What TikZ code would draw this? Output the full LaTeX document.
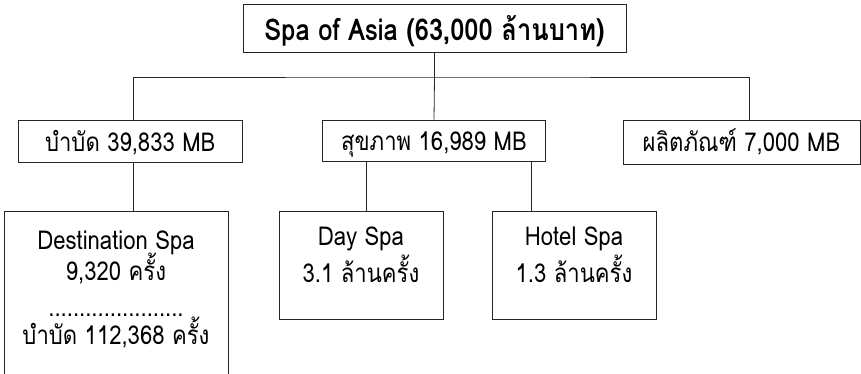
\documentclass[tikz,border=0pt]{standalone}
\usepackage{fontspec}
\newfontfamily\thaifont[Script=Thai,FakeStretch=0.85]{Loma}
\usetikzlibrary{calc}
\begin{document}
\begin{tikzpicture}[x=1pt,y=-1pt]
\tikzset{
  txtfont/.style={font=\thaifont\fontsize{26}{30}\selectfont},
  box/.style={draw=black!85, line width=0.8pt, inner sep=0pt, txtfont},
  lbl/.style={inner sep=0pt, anchor=base, txtfont},
  conn/.style={draw=black!85, line width=0.8pt},
}
\useasboundingbox (0,0) rectangle (861,374);
\clip (0,0) rectangle (861,374);
% level 1
\node[box, minimum width=383pt, minimum height=48pt, text height=26pt, text depth=0pt,
      font=\thaifont\bfseries\fontsize{30}{34}\selectfont] (top) at (434.5,28) {Spa of Asia (63,000 ล้านบาท)};
% level 2
\node[box, minimum width=224.5pt, minimum height=42pt, text height=21pt, text depth=0pt] (b1) at (130.25,141) {บำบัด 39,833 MB};
\node[box, minimum width=223pt, minimum height=41pt, text height=21pt, text depth=0pt] (b2) at (434,140.5) {สุขภาพ 16,989 MB};
\node[box, minimum width=237pt, minimum height=44pt, text height=19pt, text depth=0pt] (b3) at (741.5,142) {ผลิตภัณฑ์ 7,000 MB};
% level 3
\node[box, minimum width=224pt, minimum height=200pt, anchor=north] (dest) at (116,211) {};
\node[box, minimum width=164pt, minimum height=108pt] (day) at (361,265) {};
\node[box, minimum width=164pt, minimum height=108pt] (hotel) at (574,265) {};
% texts of level 3
\node[lbl] (dest1) at (116,249) {Destination Spa};
\node[lbl] (dest2) at (116,280) {9,320 ครั้ง};
\node[lbl] (dest3) at (116,316) {......................};
\node[lbl] (dest4) at (116,344) {บำบัด 112,368 ครั้ง};
\node[lbl] (day1) at (361,245) {Day Spa};
\node[lbl] (day2) at (361,282) {3.1 ล้านครั้ง};
\node[lbl] (hotel1) at (574,245) {Hotel Spa};
\node[lbl] (hotel2) at (574,282) {1.3 ล้านครั้ง};
% connectors
\coordinate (hub) at (434.5,77);
\draw[conn] (top.south) -- (hub) -- (b2.north);
\draw[conn] ([xshift=2.75pt]b1.north) |- (hub) -| ([xshift=7.5pt]b3.north);
\draw[conn] ([xshift=2.75pt]b1.south) coordinate (p1) -- (p1 |- dest.north);
\draw[conn] ([xshift=5pt]day.north) coordinate (p2) -- (p2 |- b2.south);
\draw[conn] ([xshift=-43pt]hotel.north) coordinate (p3) -- (p3 |- b2.south);
\end{tikzpicture}
\end{document}
